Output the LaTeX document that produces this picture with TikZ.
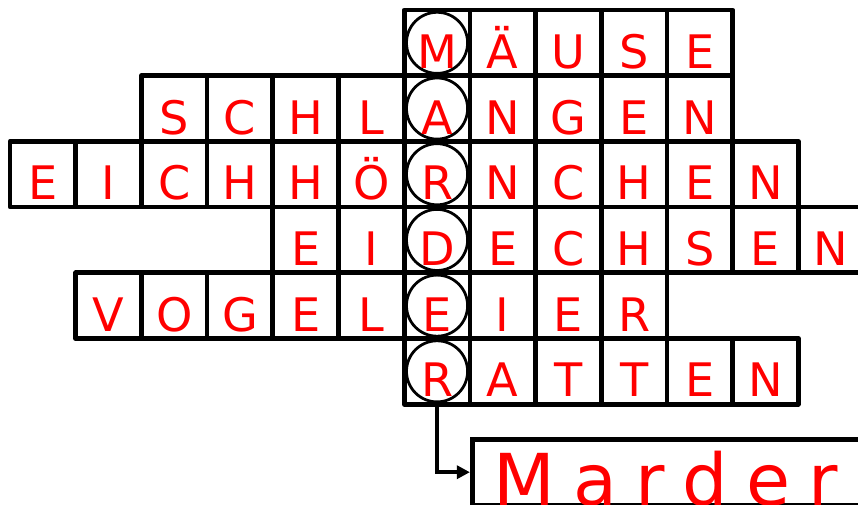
\documentclass[tikz,border=0pt]{standalone}
\usepackage{fontspec}
\setmainfont{DejaVu Sans}
\usetikzlibrary{arrows.meta}
\definecolor{wordred}{RGB}{255,0,0}
\tikzset{
  gridline/.style={line width=2pt, line join=round},
  letter/.style={anchor=base, inner sep=0pt, text=wordred, font=\fontsize{20}{24}\selectfont},
  keyring/.style={circle, draw, line width=1.2pt, minimum size=0.93cm, inner sep=0pt},
  marderbox/.style={draw, line width=2pt, anchor=north west, inner sep=0pt,
    text height=1cm, text depth=0pt, text width=6.2cm, align=left,
    text=wordred, font=\fontsize{31}{36}\selectfont}
}
\begin{document}
\begin{tikzpicture}
  \useasboundingbox (-0.152,0.152) rectangle (12.907,-7.534);
  \clip (-0.152,0.152) rectangle (12.907,-7.534);
  % rows of the puzzle: row / first column / letters
  \foreach \r/\c/\word in {0/6/{M,Ä,U,S,E}, 1/2/{S,C,H,L,A,N,G,E,N},
      2/0/{E,I,C,H,H,Ö,R,N,C,H,E,N}, 3/4/{E,I,D,E,C,H,S,E,N},
      4/1/{V,O,G,E,L,E,I,E,R}, 5/6/{R,A,T,T,E,N}} {
    \foreach \l [count=\i from 0] in \word {
      \draw[gridline] (\c+\i,-\r) rectangle ++(1,-1);
    }
  }
  % solution column
  \foreach \r in {0,...,5}
    \node[keyring] (k\r) at (6.5,-\r-0.5) {};
  \foreach \r/\c/\word in {0/6/{M,Ä,U,S,E}, 1/2/{S,C,H,L,A,N,G,E,N},
      2/0/{E,I,C,H,H,Ö,R,N,C,H,E,N}, 3/4/{E,I,D,E,C,H,S,E,N},
      4/1/{V,O,G,E,L,E,I,E,R}, 5/6/{R,A,T,T,E,N}} {
    \foreach \l [count=\i from 0] in \word {
      \node[letter] (l\r-\i) at (\c+\i+0.5,-\r-0.89) {\l};
    }
  }
  \node[marderbox] (marder) at (7,-6.5) {\hspace*{0.33cm}{\spaceskip=7.8pt M a r d e r}};
  \draw[line width=1.5pt, -{Triangle[length=0.2cm, width=0.2cm]}] (k5.south) |- (marder.west);
\end{tikzpicture}
\end{document}
